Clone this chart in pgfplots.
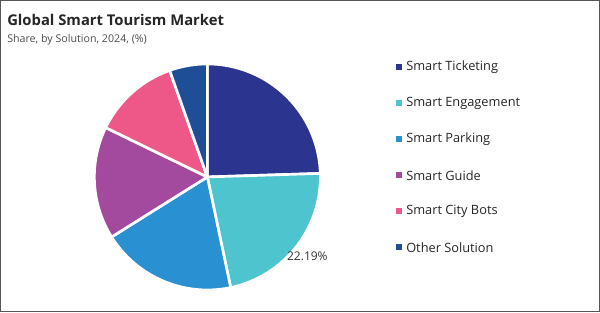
\documentclass[border=0pt]{standalone}
\usepackage{pgfplots}
\pgfplotsset{compat=1.18}
\usepackage{fontspec}
\setmainfont{Open Sans}
\definecolor{cTick}{HTML}{2B3590}
\definecolor{cEng}{HTML}{4EC4CE}
\definecolor{cPark}{HTML}{2990D2}
\definecolor{cGuide}{HTML}{A34A9E}
\definecolor{cBots}{HTML}{EE5889}
\definecolor{cOther}{HTML}{1E4E96}
\definecolor{frame}{HTML}{555555}
\def\cum{0}
\newcommand{\pieslice}[2]{%
  \pgfmathsetmacro\angA{90-3.6*\cum}%
  \pgfmathsetmacro\newcum{\cum+#1}%
  \pgfmathsetmacro\angB{90-3.6*\newcum}%
  \edef\doslice{\noexpand\addplot[fill=#2, draw=white, line width=2pt, line join=round, domain=\angB:\angA, samples=90] ({cos(x)},{sin(x)}) -- (0,0) -- cycle;}%
  \doslice
  \global\let\cum\newcum}
\begin{document}
\begin{tikzpicture}[x=0.75pt,y=0.75pt]
\draw[frame, line width=0.75pt] (0.5,0.5) rectangle (599.5,311.5);
\node[anchor=base west, inner sep=0, font=\bfseries\fontsize{11.1}{13}\selectfont, text=black!85] at (7,312-25.5) {Global Smart Tourism Market};
\node[anchor=base west, inner sep=0, font=\fontsize{8.0}{10}\selectfont, text=black!70] at (7,312-42) {Share, by Solution, 2024, (\%)};
\begin{axis}[at={(183.5,119.5)}, anchor=origin, width=169.5pt, height=169.5pt, scale only axis,
  xmin=-1, xmax=1, ymin=-1, ymax=1, hide axis, clip=false]
\pieslice{24.5}{cTick}
\pieslice{22.19}{cEng}
\pieslice{19.4}{cPark}
\pieslice{16.1}{cGuide}
\pieslice{12.4}{cBots}
\pieslice{5.41}{cOther}
\node[font=\fontsize{9}{10}\selectfont, text=black!80] at (axis cs:0.885,-0.705) {22.19\%};
\end{axis}
\foreach \t/\c [count=\i from 0] in {Smart Ticketing/cTick, Smart Engagement/cEng, Smart Parking/cPark, Smart Guide/cGuide, Smart City Bots/cBots, Other Solution/cOther}{
  \fill[\c] (395.5,312-67.3-3-36*\i) rectangle ++(6,6);
  \node[anchor=west, inner sep=0, font=\fontsize{9.6}{11}\selectfont, text=black!85] at (406,312-67.3-36*\i) {\t};
}
\end{tikzpicture}
\end{document}
